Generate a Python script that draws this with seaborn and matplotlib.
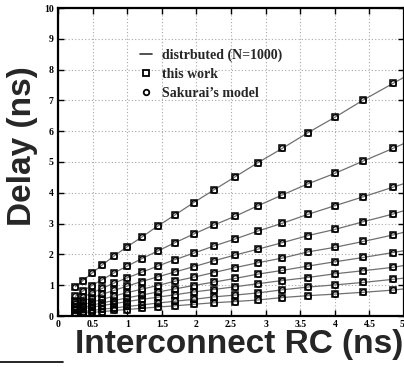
import numpy as np
import pandas as pd
import matplotlib
matplotlib.use("Agg")
import matplotlib.pyplot as plt
from matplotlib.lines import Line2D
import seaborn as sns

# ---- data ----
rc = [0.25, 0.36, 0.49, 0.64, 0.81, 1.00, 1.21, 1.44, 1.69, 1.96,
      2.25, 2.56, 2.89, 3.24, 3.61, 4.00, 4.41, 4.84]

delay_s1 = [0.95, 1.15, 1.39, 1.66, 1.95, 2.25, 2.56, 2.92, 3.28, 3.68,
            4.09, 4.52, 4.98, 5.44, 5.95, 6.45, 7.01, 7.55]
delay_s2 = [0.64, 0.81, 0.99, 1.18, 1.40, 1.62, 1.86, 2.11, 2.38, 2.66,
            2.95, 3.24, 3.58, 3.93, 4.29, 4.63, 5.03, 5.44]
delay_s3 = [0.48, 0.61, 0.75, 0.90, 1.07, 1.24, 1.42, 1.62, 1.83, 2.04,
            2.27, 2.50, 2.76, 3.01, 3.30, 3.58, 3.87, 4.18]
delay_s4 = [0.38, 0.48, 0.59, 0.71, 0.83, 0.97, 1.12, 1.27, 1.43, 1.60,
            1.79, 1.98, 2.17, 2.38, 2.61, 2.81, 3.06, 3.31]
delay_s5 = [0.29, 0.36, 0.45, 0.54, 0.65, 0.76, 0.87, 0.99, 1.13, 1.26,
            1.41, 1.57, 1.73, 1.88, 2.08, 2.23, 2.42, 2.63]
delay_s6 = [0.22, 0.28, 0.35, 0.43, 0.50, 0.59, 0.68, 0.78, 0.88, 0.99,
            1.10, 1.22, 1.36, 1.48, 1.62, 1.76, 1.90, 2.06]
delay_s7 = [0.18, 0.23, 0.29, 0.34, 0.40, 0.47, 0.54, 0.61, 0.69, 0.78,
            0.86, 0.95, 1.05, 1.15, 1.25, 1.37, 1.47, 1.58]
delay_s8 = [0.11, 0.14, 0.18, 0.22, 0.26, 0.31, 0.36, 0.42, 0.48, 0.54,
            0.62, 0.68, 0.75, 0.85, 0.94, 1.01, 1.09, 1.19]
delay_s9 = [0.07, 0.09, 0.12, 0.14, 0.18, 0.21, 0.25, 0.29, 0.33, 0.38,
            0.43, 0.47, 0.52, 0.60, 0.66, 0.71, 0.77, 0.84]

series = [delay_s1, delay_s2, delay_s3, delay_s4, delay_s5,
          delay_s6, delay_s7, delay_s8, delay_s9]

# the distributed-model curves run on to the right edge (RC = 5 ns)
rc_end = 5.0
delay_at_end = [7.75, 5.60, 4.30, 3.42, 2.72, 2.12, 1.64, 1.23, 0.88]

legend_labels = ["distrbuted (N=1000)", "this work", "Sakurai\u2019s model"]
x_ticks = [0, 0.5, 1, 1.5, 2, 2.5, 3, 3.5, 4, 4.5, 5]
x_tick_labels = ["0", "0.5", "1", "1.5", "2", "2.5", "3", "3.5", "4", "4.5", "5"]
y_ticks = list(range(0, 11))
x_label = "Interconnect RC (ns)"
y_label = "Delay (ns)"

rows = []
for i, ys in enumerate(series):
    for x, y in zip(rc, ys):
        rows.append({"rc": x, "delay": y, "curve": i})
df = pd.DataFrame(rows)

line_rows = list(rows)
for i, y in enumerate(delay_at_end):
    line_rows.append({"rc": rc_end, "delay": y, "curve": i})
df_line = pd.DataFrame(line_rows)

# ---- figure ----
sns.set_style("ticks")
plt.rcParams["font.family"] = ["Liberation Serif", "DejaVu Serif"]

W, H = 404, 367
fig = plt.figure(figsize=(W / 100, H / 100), dpi=100)
ax = fig.add_axes([58 / W, 1 - 316 / H, 346 / W, 308 / H])

sns.lineplot(data=df_line, x="rc", y="delay", units="curve", estimator=None,
             sort=True, color="#707070", linewidth=0.9, ax=ax, legend=False,
             zorder=2)
sns.lineplot(data=df, x="rc", y="delay", units="curve", estimator=None,
             linestyle="none", marker="s", markersize=3.8,
             markerfacecolor="none", markeredgecolor="black",
             markeredgewidth=1.1, color="black", ax=ax, legend=False, zorder=3)
sns.lineplot(data=df, x="rc", y="delay", units="curve", estimator=None,
             linestyle="none", marker="o", markersize=4.0,
             markerfacecolor="none", markeredgecolor="black",
             markeredgewidth=0.9, color="black", ax=ax, legend=False, zorder=3)

ax.set_xlim(0, 5)
ax.set_ylim(0, 10)
ax.set_xticks(x_ticks)
ax.set_xticklabels(x_tick_labels)
ax.set_yticks(y_ticks)
ax.set_xlabel("")
ax.set_ylabel("")
ax.grid(True, linestyle=(0, (1, 2)), color="#a8a8a8", linewidth=0.8)
ax.tick_params(direction="in", length=4, width=1, top=True, right=True,
               labelsize=7, colors="black", pad=3)
for lab in ax.get_xticklabels() + ax.get_yticklabels():
    lab.set_fontweight("bold")
xt = ax.get_xticklabels()
xt[-1].set_horizontalalignment("right")
for sp in ax.spines.values():
    sp.set_linewidth(1.6)
    sp.set_color("black")

handles = [
    Line2D([], [], color="#333333", linewidth=1.2),
    Line2D([], [], linestyle="none", marker="s", markersize=4,
           markerfacecolor="none", markeredgecolor="black", markeredgewidth=1.3),
    Line2D([], [], linestyle="none", marker="o", markersize=4,
           markerfacecolor="none", markeredgecolor="black", markeredgewidth=1.3),
]
ax.legend(handles, legend_labels, loc="upper left",
          bbox_to_anchor=((133 - 58) / 346, 1 - (42 - 8) / 308),
          frameon=False, borderpad=0, handlelength=0.9, handletextpad=0.7,
          labelspacing=0.42,
          prop={"family": "Liberation Serif", "weight": "bold", "size": 10})

fig.text(239.5 / W, 1 - 345 / H, x_label, ha="center", va="center",
         fontsize=24, fontweight="bold", family="Liberation Sans")
fig.text(23 / W, 1 - 146 / H, y_label, ha="center", va="center", rotation=90,
         fontsize=24, fontweight="bold", family="Liberation Sans")

fig.add_artist(Line2D([0, 63 / W], [1 - 362 / H, 1 - 362 / H],
                      transform=fig.transFigure, color="black", linewidth=1.2))

fig.savefig("out.png", dpi=100)
